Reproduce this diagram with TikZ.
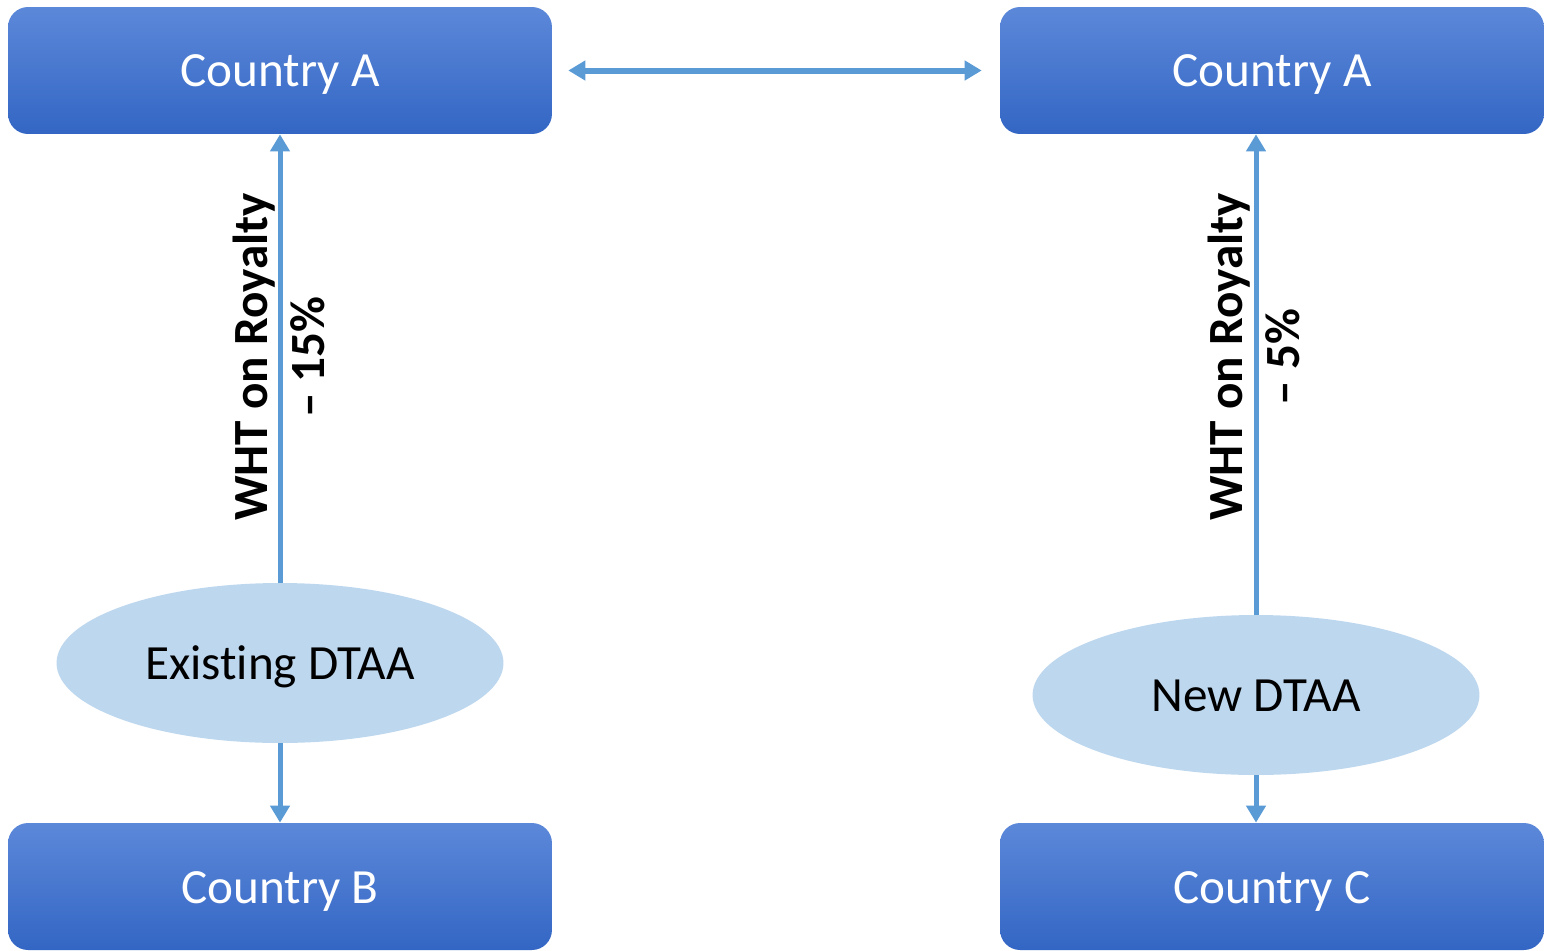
\documentclass[tikz,border=0pt]{standalone}
\usepackage{fontspec}
\setmainfont[Ligatures=NoCommon]{Carlito}
\usetikzlibrary{arrows.meta,shapes.geometric}
\definecolor{boxtop}{HTML}{5C88D9}
\definecolor{boxbottom}{HTML}{3366C4}
\definecolor{dtaafill}{HTML}{BDD7EE}
\definecolor{linkblue}{HTML}{5B9BD5}
\tikzset{
country/.style={rectangle, rounded corners=0.4cm, top color=boxtop, bottom color=boxbottom, minimum width=10.88cm, minimum height=2.54cm, text height=0.66cm, text depth=0cm, text=white, font=\fontsize{28}{34}\selectfont},
dtaa/.style={ellipse, fill=dtaafill, inner sep=0pt, minimum width=8.94cm, minimum height=3.2cm, text height=0.66cm, text depth=0cm, font=\fontsize{28}{34}\selectfont},
wht/.style={rotate=90, align=center, font=\bfseries\fontsize{28}{32.5}\selectfont},
arrow/.style={line width=0.1cm, draw=linkblue, -{Triangle[length=0.34cm,width=0.38cm]}},
}

\begin{document}
\begin{tikzpicture}[x=0.02cm,y=-0.02cm]
\useasboundingbox (0,0) rectangle (1544,950);

\node[country](country_a1) at (280,70.5){Country A};
\node[country](country_b) at (280,886.5){Country B};
\node[country](country_a2) at (1272,70.5){Country A};
\node[country](country_c) at (1272,886.5){Country C};

\node[dtaa](existing) at (280,663){Existing DTAA};
\node[dtaa](new) at (1256,695){New DTAA};

\node[wht](wht_existing) at (279,357){WHT on Royalty\\– 15\%};
\node[wht](wht_new) at (1254,357){WHT on Royalty\\– 5\%};

\draw [arrow] (existing.north) -- (country_a1.south);
\draw [arrow] (existing.south) -- (country_b.north);
\draw [arrow] (new.north) -- (new.north |- country_a2.south);
\draw [arrow] (new.south) -- (new.south |- country_c.north);
\draw [arrow, line width=0.12cm, {Triangle[length=0.34cm,width=0.38cm]}-{Triangle[length=0.34cm,width=0.38cm]}, shorten <=0.32cm, shorten >=0.36cm] (country_a1.east) -- (country_a2.west);
\end{tikzpicture}
\end{document}
